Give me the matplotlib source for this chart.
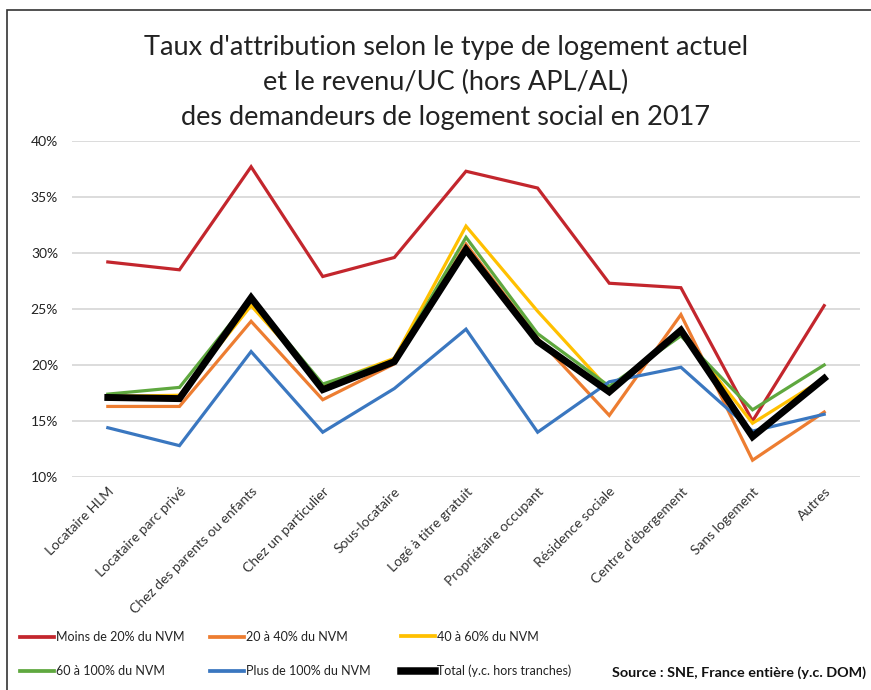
import matplotlib
matplotlib.use("Agg")
import matplotlib.pyplot as plt
from matplotlib.lines import Line2D
from matplotlib.patches import Rectangle
from matplotlib.ticker import FuncFormatter

plt.rcParams['font.family'] = ['Lato', 'DejaVu Sans']

# ======== données ========
categories = [
    "Locataire HLM", "Locataire parc privé", "Chez des parents ou enfants",
    "Chez un particulier", "Sous-locataire", "Logé à titre gratuit",
    "Propriétaire occupant", "Résidence sociale", "Centre d'ébergement",
    "Sans logement", "Autres",
]
moins_20 = [29.2, 28.5, 37.7, 27.9, 29.6, 37.3, 35.8, 27.3, 26.9, 15.0, 25.3]
de_20_40 = [16.3, 16.3, 23.9, 16.9, 20.1, 30.8, 22.4, 15.5, 24.5, 11.5, 15.8]
de_40_60 = [17.2, 17.3, 25.3, 18.2, 20.6, 32.4, 24.8, 17.8, 23.0, 14.8, 18.8]
de_60_100 = [17.4, 18.0, 26.0, 18.3, 20.4, 31.4, 22.8, 18.1, 22.6, 16.0, 20.0]
plus_100 = [14.4, 12.8, 21.2, 14.0, 17.9, 23.2, 14.0, 18.5, 19.8, 14.1, 15.6]
total = [17.1, 17.0, 26.0, 17.8, 20.3, 30.3, 22.1, 17.6, 23.1, 13.6, 18.8]

y_ticks = [10, 15, 20, 25, 30, 35, 40]

series = [
    ("Moins de 20% du NVM", moins_20, "#C3262D", 2.3),
    ("20 à 40% du NVM", de_20_40, "#ED7D31", 2.3),
    ("40 à 60% du NVM", de_40_60, "#FFC000", 2.3),
    ("60 à 100% du NVM", de_60_100, "#5FA83F", 2.3),
    ("Plus de 100% du NVM", plus_100, "#3A77C0", 2.3),
    ("Total (y.c. hors tranches)", total, "#000000", 5.0),
]

# ======== figure ========
fig = plt.figure(figsize=(8.71, 6.90), dpi=100)
W, H = 871, 690
ax = fig.add_axes([72 / W, 1 - 477 / H, (860 - 72) / W, (477 - 141) / H])

x = list(range(len(categories)))
handles = []
for label, vals, color, lw in series:
    ax.plot(x, vals, color=color, linewidth=lw, solid_joinstyle="miter", zorder=3)
    handles.append(Line2D([0], [0], color=color, linewidth=lw + 0.4, label=label))

ax.set_xlim(-0.5, len(categories) - 0.5)
ax.set_ylim(10, 40)
ax.set_yticks(y_ticks)
ax.yaxis.set_major_formatter(FuncFormatter(lambda v, p: f"{int(v)}%"))
ax.grid(axis="y", color="#D9D9D9", linewidth=1.3)
ax.set_axisbelow(True)
for s in ax.spines.values():
    s.set_visible(False)
ax.tick_params(axis="both", length=0, labelsize=10, colors="#222222")
ax.tick_params(axis="y", pad=10)
ax.set_xticks(x)
ax.set_xticklabels(categories, rotation=45, ha="right", rotation_mode="anchor",
                   fontsize=10, color="#333333")
ax.tick_params(axis="x", pad=6)

# ======== titre ========
for txt, ypx in [("Taux d'attribution selon le type de logement actuel", 47),
                 ("et le revenu/UC (hors APL/AL)", 82),
                 ("des demandeurs de logement social en 2017", 117)]:
    fig.text(446 / W, 1 - ypx / H, txt, ha="center", va="center",
             fontsize=19.5, color="#222222")

# ======== légende : une colonne par légende ========
col_x = [20, 210, 401]
for c in range(3):
    hs = [handles[c], handles[c + 3]]
    fig.legend(hs, [h.get_label() for h in hs], loc="center left",
               bbox_to_anchor=(col_x[c] / W, 1 - 654 / H),
               frameon=False, fontsize=9, handlelength=2.7, handletextpad=0.15,
               borderpad=0, borderaxespad=0, labelspacing=1.75, labelcolor="#222222")

fig.text(866 / W, 1 - 673 / H, "Source : SNE, France entière (y.c. DOM)",
         ha="right", va="center", fontsize=10.4, fontweight="bold", color="#111111")

# cadre
fig.patches.append(Rectangle((7 / W, -0.01), 1.0, 1 - 10 / H + 0.01, transform=fig.transFigure,
                             fill=False, edgecolor="#333333", linewidth=1.2))

fig.savefig("out.png", dpi=100)
